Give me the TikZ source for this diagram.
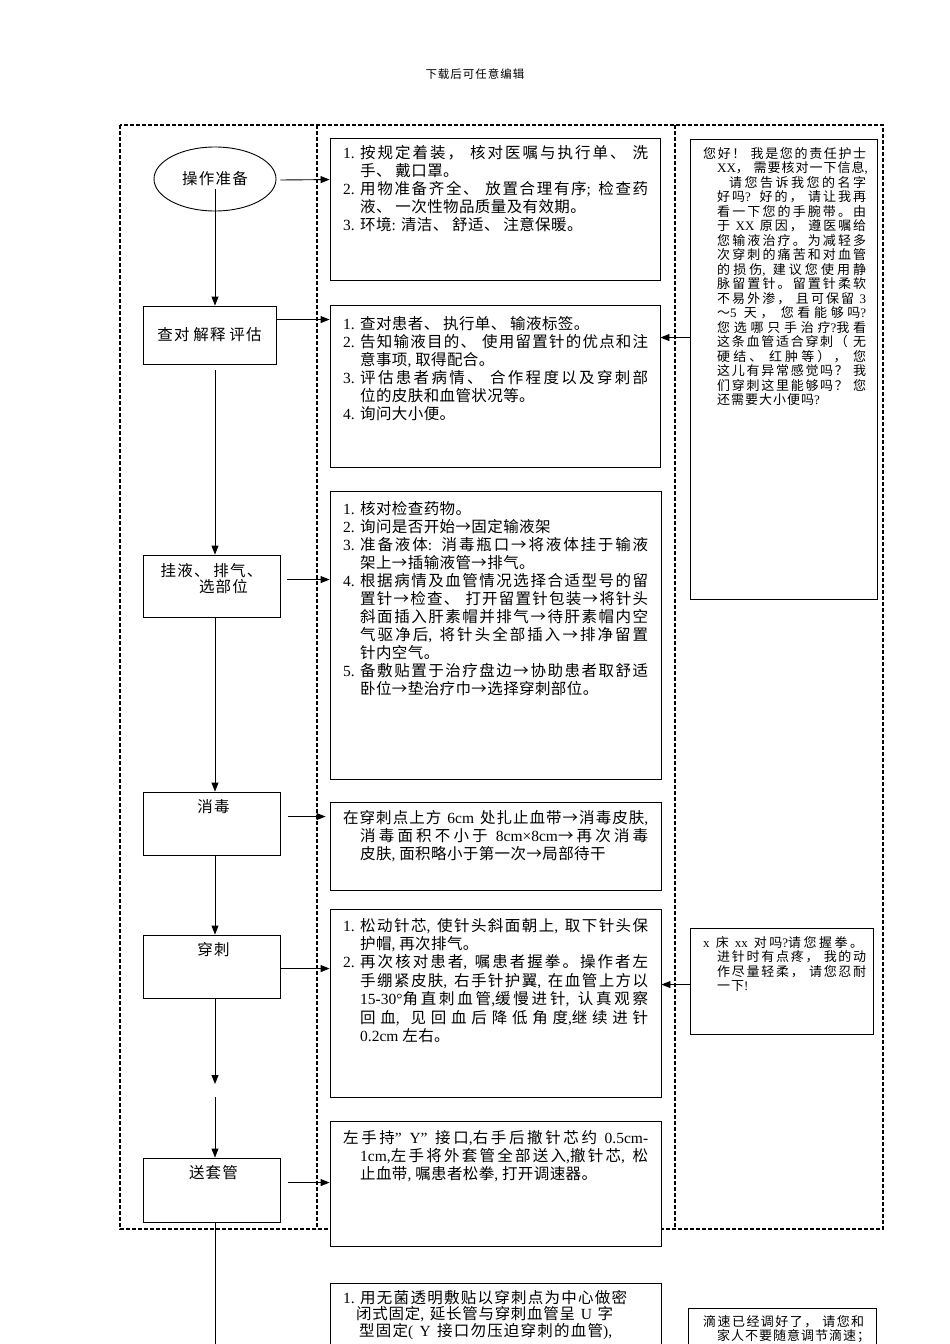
\documentclass[tikz,border=0pt]{standalone}
\usepackage{fontspec}
\setmainfont{Liberation Serif}
\newfontfamily\latinfont{Liberation Serif}
\newfontfamily\cjkfont{Noto Sans CJK SC}
\usetikzlibrary{arrows.meta}
\usetikzlibrary{calc}
\usetikzlibrary{shapes.geometric}

\newXeTeXintercharclass\cjkclass
\newcount\cjkcnt
\newcommand\setcjkrange[2]{\cjkcnt=#1
  \loop\XeTeXcharclass\cjkcnt=\cjkclass
    \advance\cjkcnt by 1
  \ifnum\cjkcnt<#2 \repeat}
\setcjkrange{"3000}{"3040}
\setcjkrange{"4E00}{"A000}
\setcjkrange{"FF00}{"FFF0}
\XeTeXcharclass"2192=\cjkclass
\newdimen\cjkgap
\def\cjkstr{0pt}
\XeTeXinterchartoks 0 \cjkclass={\cjkfont}
\XeTeXinterchartoks 4095 \cjkclass={\cjkfont}
\XeTeXinterchartoks \cjkclass 0={\latinfont}
\XeTeXinterchartoks \cjkclass 4095={\latinfont}
\XeTeXinterchartoks \cjkclass \cjkclass={\hskip\cjkgap plus \cjkstr\relax}
\XeTeXinterchartokenstate=1

\newcommand\jl[2][288pt]{\leavevmode\hbox to #1{\def\cjkstr{1fil}\spaceskip=.35em plus 1fil\relax #2}}
\newcommand\itm[1]{\makebox[17pt][l]{#1}}
\newcommand\hng[1][17pt]{\hspace*{#1}}
\newcommand\jr[1]{\hng[14pt]\jl[149pt]{#1}}

\newcommand\bodyfnt{\fontsize{15.5}{18}\selectfont\cjkgap=.4pt\relax}
\newcommand\bodyfntb{\fontsize{15.5}{18.4}\selectfont\cjkgap=.4pt\relax}
\newcommand\bodyfntc{\fontsize{15.5}{16.7}\selectfont\cjkgap=.4pt\relax}
\newcommand\notefnt{\fontsize{13}{14.5}\selectfont\cjkgap=1pt\relax}
\newcommand\flowfnt{\fontsize{15.5}{18}\selectfont\cjkgap=1.2pt\relax}
\newcommand\headfnt{\fontsize{11.5}{13}\selectfont\cjkgap=1pt\relax}

\tikzset{
  lane/.style={dash pattern=on 4pt off 2pt, line width=1.1pt},
  stepbox/.style={draw, line width=.9pt, fill=white, inner sep=0pt},
  flowbox/.style={draw, line width=.9pt, inner sep=0pt, minimum width=137pt, font=\flowfnt},
  txt/.style={anchor=base west, inner sep=0pt, font=\bodyfnt},
  note/.style={anchor=base west, inner sep=0pt, font=\notefnt},
  arr/.style={-{Triangle[length=9pt,width=7pt]}, line width=.9pt}
}

\begin{document}
\begin{tikzpicture}[x=1pt,y=-1pt]
\useasboundingbox (0,0) rectangle (950,1344);
\clip (0,0) rectangle (950,1344);

\draw (475,74) node[font=\headfnt] (head) {下载后可任意编辑};

\draw[lane] (120,125) rectangle (883,1229);
\draw[lane] (317,125) -- (317,1229);
\draw[lane] (675,125) -- (675,1229);

\draw (215,179) node[draw, ellipse, line width=.9pt, minimum width=122pt, minimum height=64pt, inner sep=0pt, font=\flowfnt] (op) {操作准备};
\draw (209.5,335) node[flowbox, minimum width=133pt, minimum height=58pt] (f2) {查对 解释 评估};
\draw (211.5,586) node[flowbox, text height=21pt, text depth=41pt] (f3) {\begin{tabular}[t]{@{}c@{}}挂液、 排气、\\[-2pt]\hspace*{24pt}选部位\end{tabular}};
\draw (211.5,823.5) node[flowbox, text height=20pt, text depth=43pt] (f4) {\hspace*{4pt}消毒};
\draw (211.5,966.5) node[flowbox, text height=20pt, text depth=43pt] (f5) {\hspace*{4pt}穿刺};
\draw (211.5,1190) node[flowbox, text height=20pt, text depth=44pt] (f6) {\hspace*{4pt}送套管};

\draw (495,209) node[stepbox, minimum width=330pt, minimum height=142pt] (b1) {};
\draw (495,386) node[stepbox, minimum width=330pt, minimum height=162pt] (b2) {};
\draw (495.5,635) node[stepbox, minimum width=331pt, minimum height=288pt] (b3) {};
\draw (495.5,846) node[stepbox, minimum width=331pt, minimum height=88pt] (b4) {};
\draw (495.5,1003) node[stepbox, minimum width=331pt, minimum height=188pt] (b5) {};
\draw (495.5,1183.5) node[stepbox, minimum width=331pt, minimum height=125pt] (b6) {};
\draw (495.5,1341.5) node[stepbox, minimum width=331pt, minimum height=117pt] (b7) {};

\draw (783.5,369) node[stepbox, minimum width=187pt, minimum height=460pt] (r1) {};
\draw (781.5,981) node[stepbox, minimum width=183pt, minimum height=106pt] (r2) {};
\draw (782,1354) node[stepbox, minimum width=188pt, minimum height=92pt] (r3) {};

\draw (343,158) node[txt] (t1) {\parbox[t]{330pt}{\raggedright
  \itm{1.}\jl{按规定着装， 核对医嘱与执行单、 洗}\\
  \hng 手、 戴口罩。\\
  \itm{2.}\jl{用物准备齐全、 放置合理有序; 检查药}\\
  \hng 液、 一次性物品质量及有效期。\\
  \itm{3.}环境: 清洁、 舒适、 注意保暖。}};
\draw (343,329) node[txt] (t2) {\parbox[t]{330pt}{\raggedright
  \itm{1.}查对患者、 执行单、 输液标签。\\
  \itm{2.}\jl{告知输液目的、 使用留置针的优点和注}\\
  \hng 意事项, 取得配合。\\
  \itm{3.}\jl{评估患者病情、 合作程度以及穿刺部}\\
  \hng 位的皮肤和血管状况等。\\
  \itm{4.}询问大小便。}};
\draw (343,514) node[txt] (t3) {\parbox[t]{330pt}{\raggedright
  \itm{1.}核对检查药物。\\
  \itm{2.}询问是否开始→固定输液架\\
  \itm{3.}\jl{准备液体: 消毒瓶口→将液体挂于输液}\\
  \hng 架上→插输液管→排气。\\
  \itm{4.}\jl{根据病情及血管情况选择合适型号的留}\\
  \hng\jl{置针→检查、 打开留置针包装→将针头}\\
  \hng\jl{斜面插入肝素帽并排气→待肝素帽内空}\\
  \hng\jl{气驱净后, 将针头全部插入→排净留置}\\
  \hng 针内空气。\\
  \itm{5.}\jl{备敷贴置于治疗盘边→协助患者取舒适}\\
  \hng 卧位→垫治疗巾→选择穿刺部位。}};
\draw (343,823) node[txt] (t4) {\parbox[t]{330pt}{\raggedright
  \jl[305pt]{在穿刺点上方 6cm 处扎止血带→消毒皮肤,}\\
  \hng\jl{消毒面积不小于 8cm×8cm→再次消毒}\\
  \hng 皮肤, 面积略小于第一次→局部待干}};
\draw (343,931) node[txt, font=\bodyfntb] (t5) {\parbox[t]{330pt}{\raggedright
  \itm{1.}\jl{松动针芯, 使针头斜面朝上, 取下针头保}\\
  \hng 护帽, 再次排气。\\
  \itm{2.}\jl{再次核对患者, 嘱患者握拳。操作者左}\\
  \hng\jl{手绷紧皮肤, 右手针护翼, 在血管上方以}\\
  \hng\jl{15-30°角直刺血管,缓慢进针, 认真观察}\\
  \hng\jl{回血, 见回血后降低角度,继续进针}\\
  \hng 0.2cm 左右。}};
\draw (343,1143) node[txt] (t6) {\parbox[t]{330pt}{\raggedright
  \jl[305pt]{左手持” Y” 接口,右手后撤针芯约 0.5cm-}\\
  \hng\jl{1cm,左手将外套管全部送入,撤针芯, 松}\\
  \hng 止血带, 嘱患者松拳, 打开调速器。}};
\draw (343,1303) node[txt, font=\bodyfntc] (t7) {\parbox[t]{330pt}{\raggedright
  \itm{1.}\jl[267pt]{用无菌透明敷贴以穿刺点为中心做密}\\
  \hng[13pt]\jl[257pt]{闭式固定, 延长管与穿刺血管呈 U 字}\\
  \hng[16pt]\jl[253pt]{型固定( Y 接口勿压迫穿刺的血管),}}};

\draw (703,158) node[note] (n1) {\parbox[t]{175pt}{\raggedright
  \jl[163pt]{您好！ 我是您的责任护士}\\
  \jr{XX， 需要核对一下信息,}\\
  \hng[26pt]\jl[137pt]{请您告诉我您的名字}\\
  \jr{好吗? 好的， 请让我再}\\
  \jr{看一下您的手腕带。由}\\
  \jr{于 XX 原因， 遵医嘱给}\\
  \jr{您输液治疗。为减轻多}\\
  \jr{次穿刺的痛苦和对血管}\\
  \jr{的损伤, 建议您使用静}\\
  \jr{脉留置针。留置针柔软}\\
  \jr{不易外渗， 且可保留 3}\\
  \jr{～5 天， 您看能够吗?}\\
  \jr{您选哪只手治疗?我看}\\
  \jr{这条血管适合穿刺（ 无}\\
  \jr{硬结、 红肿等）， 您}\\
  \jr{这儿有异常感觉吗？ 我}\\
  \jr{们穿刺这里能够吗？ 您}\\
  \hng[14pt]还需要大小便吗?}};
\draw (703,947) node[note] (n2) {\parbox[t]{175pt}{\raggedright
  \jl[160pt]{x 床 xx 对吗?请您握拳。}\\
  \jr{进针时有点疼， 我的动}\\
  \jr{作尽量轻柔， 请您忍耐}\\
  \hng[14pt]一下!}};
\draw (703,1326) node[note] (n3) {\parbox[t]{175pt}{\raggedright
  \jl[161pt]{滴速已经调好了， 请您和}\\
  \hng[14pt]\jl[151pt]{家人不要随意调节滴速；}}};

\coordinate (gap1) at (215,1084);
\coordinate (gap2) at (215,1097);
\coordinate (tail) at (215,1350);

\draw[arr] ($(op.center)+(0,10)$) -- (op.center |- f2.north);
\draw[arr] ($(op.center |- f2.south)+(0,6)$) -- (op.center |- f3.north);
\draw[arr] (op.center |- f3.south) -- (op.center |- f4.north);
\draw[arr] (op.center |- f4.south) -- (op.center |- f5.north);
\draw[arr] (op.center |- f5.south) -- (gap1);
\draw[arr] (gap2) -- (op.center |- f6.north);
\draw[line width=.9pt] (op.center |- f6.south) -- (tail);

\draw[arr] ($(op.east)+(4,1)$) -- ($(b1.north west)+(0,42)$);
\draw[arr] ($(f2.north east)+(0,14)$) -- ($(b2.north west)+(0,15)$);
\draw[arr] ($(f3.north east)+(7,25)$) -- ($(b3.north west)+(0,89)$);
\draw[arr] ($(f4.north east)+(8,25)$) -- ($(b4.north west)+(-4,15)$);
\draw[arr] ($(f5.north east)+(0,34)$) -- ($(b5.north west)+(0,60)$);
\draw[arr] ($(f6.north east)+(8,25)$) -- ($(b6.north west)+(0,62)$);
\draw[arr] ($(r1.north west)+(0,199)$) -- ($(b2.north east)+(0,33)$);
\draw[arr] ($(r2.north west)+(0,57)$) -- ($(b5.north east)+(0,76)$);
\end{tikzpicture}
\end{document}
